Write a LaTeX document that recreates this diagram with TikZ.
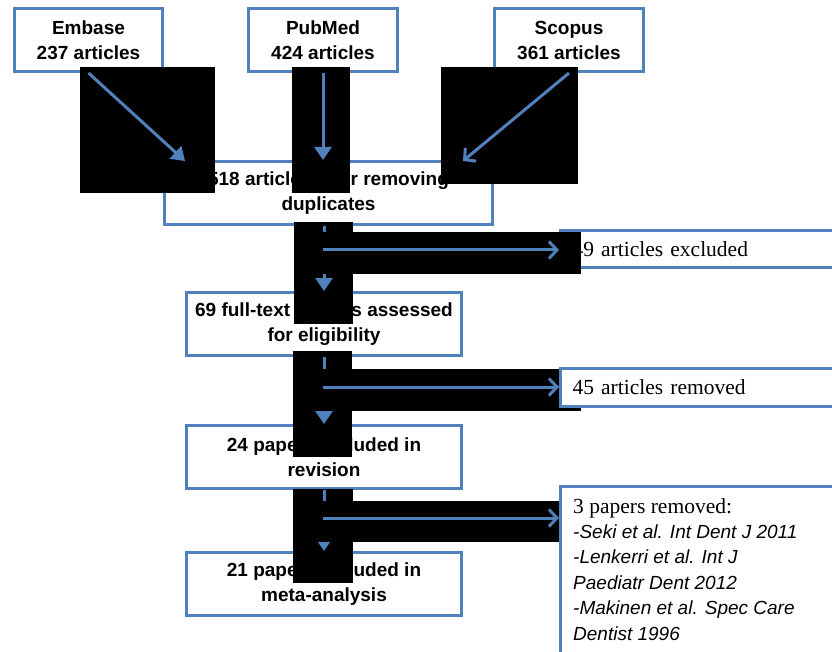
\documentclass[tikz,border=0pt]{standalone}
\usepackage{fontspec}
\setmainfont{Liberation Serif}
\setsansfont{Liberation Sans}
\usetikzlibrary{arrows.meta}
\definecolor{lineblue}{RGB}{79,129,189}
\begin{document}
\begin{tikzpicture}[x=1pt,y=-1pt,
  mainbox/.style={draw=lineblue, line width=3pt, fill=white, align=center,
    font=\sffamily\bfseries\fontsize{19}{25}\selectfont, inner sep=0pt,
    minimum height=63pt},
  sidebox/.style={draw=lineblue, line width=3pt, fill=white, align=left,
    font=\rmfamily\fontsize{21.5}{25}\selectfont, inner xsep=12pt, inner ysep=0pt,
    text width=316pt, anchor=west},
  redact/.style={fill=black, draw=none},
  flowarrow/.style={draw=lineblue, line width=3pt, -{Triangle[length=13pt,width=17pt]}},
  openarrow/.style={draw=lineblue, line width=3pt, -{Straight Barb[length=8pt,width=17pt]}}
]
\useasboundingbox (0,0) rectangle (832,652);
\clip (0,0) rectangle (832,652);

% main boxes
\node[mainbox, minimum width=148pt] (embase) at (88.5,40) {Embase\\237 articles};
\node[mainbox, minimum width=149pt] (pubmed) at (323,40) {PubMed\\424 articles};
\node[mainbox, minimum width=149pt] (scopus) at (569,40) {Scopus\\361 articles};
\node[mainbox, minimum width=328pt] (dedup) at (328.5,193) {518 articles after removing\\duplicates};
\node[mainbox, minimum width=275pt] (full) at (324,324) {69 full-text articles assessed\\for eligibility};
\node[mainbox, minimum width=275pt] (incl) at (324,457) {24 papers included in\\revision};
\node[mainbox, minimum width=275pt] (meta) at (324,584) {21 papers included in\\meta-analysis};

% first side box (covered by band)
\node[sidebox, minimum height=37pt] (excl) at (559,249) {49 articles excluded};

% tall black rectangles
\fill[redact] (80,67) rectangle (215,193);
\fill[redact] (292,67) rectangle (350,193);
\fill[redact] (441,67) rectangle (578,184);
\fill[redact] (294,222) rectangle (353,324);
\fill[redact] (293,351) rectangle (352,457);
\fill[redact] (293,489) rectangle (353,583);

% arrows from sources
\coordinate (embend) at (185,161);
\coordinate (scoend) at (463,161);
\draw[flowarrow] (embase.south) -- (embend);
\draw[flowarrow] (pubmed.south) -- (pubmed.south |- dedup.north);
\draw[openarrow] (scopus.south) -- (scoend);

% vertical arrows
\draw[flowarrow] (full.north |- dedup.south) -- (full.north);
\draw[flowarrow] (full.south) -- (incl.north);
\draw[flowarrow] (incl.south) -- (meta.north);

% horizontal black bands
\fill[redact] (294,232) rectangle (581,274);
\fill[redact] (293,369) rectangle (581,411);
\fill[redact] (293,501) rectangle (581,542);

% other side boxes
\node[sidebox, minimum height=38pt] (remv) at (559,387.5) {45 articles removed};
\node[draw=lineblue, line width=3pt, fill=white, anchor=north west,
  minimum width=340pt, minimum height=230pt] (rembox) at (559,485) {};
\node[anchor=north west, align=left, inner sep=0pt,
  font=\sffamily\itshape\fontsize{19}{25.4}\selectfont] (remtxt) at (573,498)
  {{\rmfamily\upshape\fontsize{21.5}{25.4}\selectfont 3 papers removed:}\\
   -Seki et al. Int Dent J 2011\\
   -Lenkerri et al. Int J\\
   Paediatr Dent 2012\\
   -Makinen et al. Spec Care\\
   Dentist 1996};

% horizontal arrows
\coordinate (h1) at (323,250);
\coordinate (h2) at (323,387);
\coordinate (h3) at (323,518);
\draw[openarrow] (h1) -- (h1 -| excl.west);
\draw[openarrow] (h2) -- (h2 -| remv.west);
\draw[openarrow] (h3) -- (h3 -| rembox.west);
\end{tikzpicture}
\end{document}
